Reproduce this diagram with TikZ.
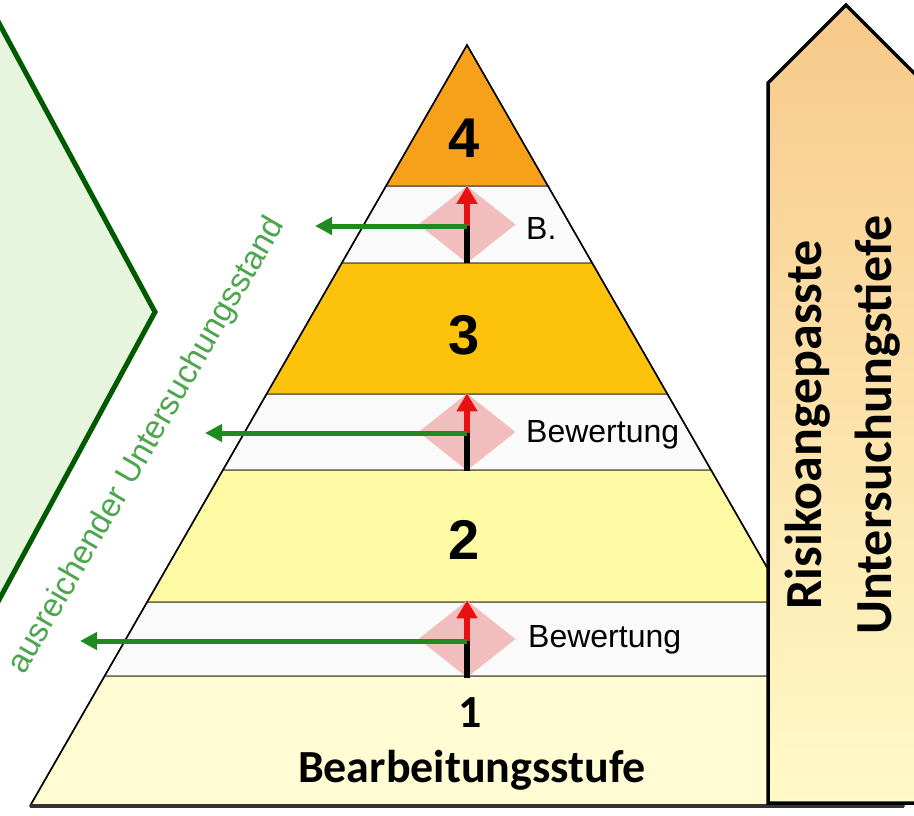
\documentclass[tikz,border=0pt]{standalone}
\usepackage{fontspec}
\setmainfont{Liberation Sans}
\newfontfamily\calibri{Carlito}
\usetikzlibrary{shapes.geometric,arrows.meta,calc}
\definecolor{chevfill}{HTML}{E7F4DE}
\definecolor{chevline}{HTML}{005A00}
\definecolor{bandfour}{HTML}{F7A11B}
\definecolor{bandthree}{HTML}{FCC20C}
\definecolor{bandtwo}{HTML}{FFFBA5}
\definecolor{bandone}{HTML}{FFFBD2}
\definecolor{wband}{HTML}{FAFAFA}
\definecolor{pinkd}{HTML}{F2BDBD}
\definecolor{redarr}{HTML}{E81010}
\definecolor{grnarr}{HTML}{1F8A1F}
\definecolor{gtxt}{HTML}{4DA64D}
\definecolor{arrowtop}{HTML}{F8C98A}
\definecolor{arrowbot}{HTML}{FFFAC8}
\definecolor{sepline}{HTML}{5E5640}
\begin{document}
\begin{tikzpicture}[x=1pt,y=-1pt,
  band/.style={draw=sepline,line width=1.3},
  dia/.style={diamond,fill=pinkd,inner sep=0pt,minimum width=97,minimum height=77,draw=none},
  blk/.style={line width=6,black},
  redup/.style={line width=6,redarr,-{Triangle[length=18,width=20]}},
  grn/.style={line width=5,grnarr,-{Triangle[length=17,width=17]}},
  lbl/.style={anchor=west,font=\fontsize{32}{38}\selectfont,inner sep=0pt},
  num/.style={font=\bfseries\fontsize{56}{60}\selectfont,inner sep=0pt},
]
\useasboundingbox (0,0) rectangle (914,815);
\fill[white] (0,0) rectangle (914,815);
\begin{scope}
\clip (0,0) rectangle (914,815);
% left chevron
\filldraw[fill=chevfill,draw=chevline,line width=5] (-10,6.5) -- (155,312) -- (-10,616.5) -- cycle;
% pyramid bands
\filldraw[band,fill=bandone] (104.6,676) -- (829.4,676) -- (904,806) -- (30,806) -- cycle;
\filldraw[band,fill=wband] (147.1,602) -- (786.9,602) -- (829.4,676) -- (104.6,676) -- cycle;
\filldraw[band,fill=bandtwo] (222.9,470) -- (711.1,470) -- (786.9,602) -- (147.1,602) -- cycle;
\filldraw[band,fill=wband] (266.6,394) -- (667.4,394) -- (711.1,470) -- (222.9,470) -- cycle;
\filldraw[band,fill=bandthree] (341.8,263) -- (592.2,263) -- (667.4,394) -- (266.6,394) -- cycle;
\filldraw[band,fill=wband] (386,186) -- (548,186) -- (592.2,263) -- (341.8,263) -- cycle;
\filldraw[band,fill=bandfour] (467,45) -- (548,186) -- (386,186) -- cycle;
\draw[line width=1.6,black] (30,806) -- (467,45) -- (904,806);
\draw[line width=3.5,black!80] (30,806) -- (904,806);
% numbers
\node[num] (n4) at (464,138) {4};
\node[num] (n3) at (464,335) {3};
\node[num] (n2) at (464,540) {2};
\node[font=\calibri\bfseries\fontsize{46}{50}\selectfont,inner sep=0pt] (n1) at (470,713) {1};
\node[font=\calibri\bfseries\fontsize{46}{50}\selectfont,inner sep=0pt] (stufe) at (472,770) {Bearbeitungsstufe};
% evaluation steps
\node[dia] (d1) at (467,639) {};
\node[dia] (d2) at (467,432) {};
\node[dia] (d3) at (467,224.5) {};
\coordinate (g1) at (467,641);
\coordinate (g2) at (467,433);
\coordinate (g3) at (467,226);
\coordinate (t1) at (80,641);
\coordinate (t2) at (205,433);
\coordinate (t3) at (315,226);
\draw[blk] (d1.south) -- (g1);
\draw[blk] (d2.south) -- (g2);
\draw[blk] (d3.south) -- (g3);
\draw[redup] (g1) -- (d1.north);
\draw[redup] (g2) -- (d2.north);
\draw[redup] (g3) -- (d3.north);
\draw[grn] (g1) -- (t1);
\draw[grn] (g2) -- (t2);
\draw[grn] (g3) -- (t3);
\node[lbl] (b1) at (528,640) {Bewertung};
\node[lbl] (b2) at (526,435) {Bewertung};
\node[lbl] (b3) at (526,228) {B.};
% rotated green text
\node[rotate=60,text=gtxt,font=\fontsize{33}{38}\selectfont,inner sep=0pt] (us) at (147,446) {ausreichender Untersuchungsstand};
% right arrow
\shadedraw[top color=arrowtop,bottom color=arrowbot,draw=black,line width=3.5] (768,803) -- (768,83) -- (846,5) -- (924,83) -- (924,803) -- cycle;
\node[rotate=90,font=\calibri\bfseries\fontsize{52}{70}\selectfont,align=center,inner sep=0pt] (risk) at (843,425) {Risikoangepasste\\Untersuchungstiefe};
\end{scope}
\end{tikzpicture}
\end{document}
